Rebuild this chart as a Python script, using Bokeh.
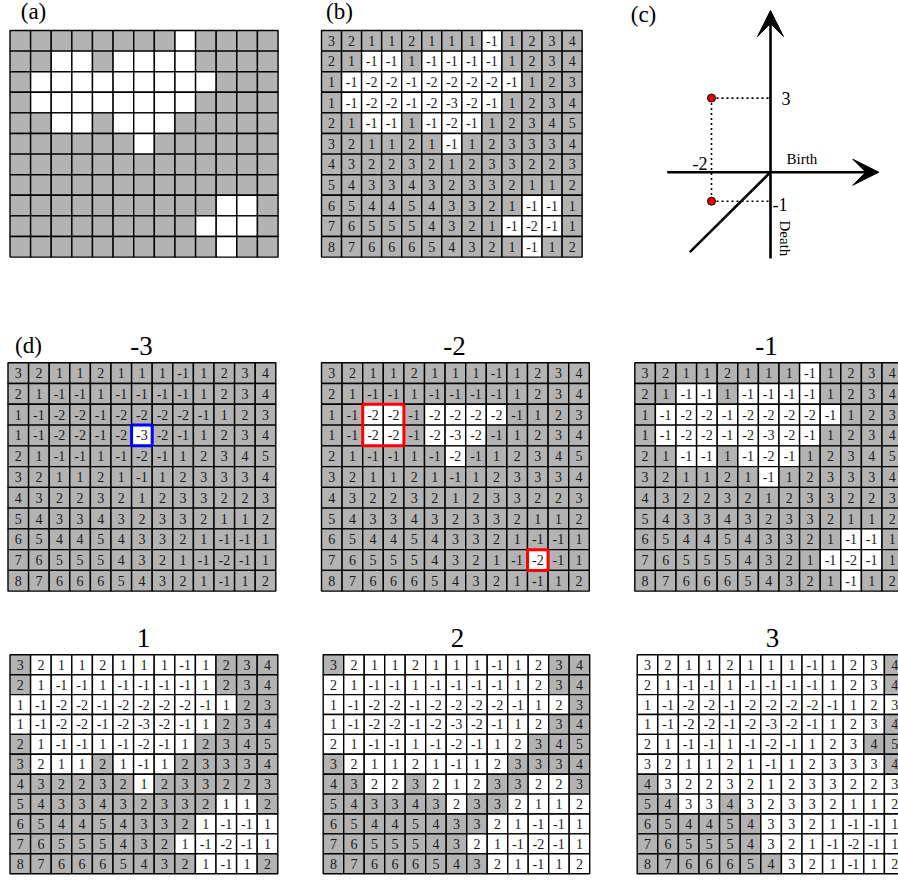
import math
from bokeh.plotting import figure
from bokeh.models import ColumnDataSource, Range1d, Arrow, VeeHead
from bokeh.core.properties import value
from bokeh.embed import file_html
from bokeh.resources import INLINE

# ---------------- data ----------------
grid_values = [
    [3, 2, 1, 1, 2, 1, 1, 1, -1, 1, 2, 3, 4],
    [2, 1, -1, -1, 1, -1, -1, -1, -1, 1, 2, 3, 4],
    [1, -1, -2, -2, -1, -2, -2, -2, -2, -1, 1, 2, 3],
    [1, -1, -2, -2, -1, -2, -3, -2, -1, 1, 2, 3, 4],
    [2, 1, -1, -1, 1, -1, -2, -1, 1, 2, 3, 4, 5],
    [3, 2, 1, 1, 2, 1, -1, 1, 2, 3, 3, 3, 4],
    [4, 3, 2, 2, 3, 2, 1, 2, 3, 3, 2, 2, 3],
    [5, 4, 3, 3, 4, 3, 2, 3, 3, 2, 1, 1, 2],
    [6, 5, 4, 4, 5, 4, 3, 3, 2, 1, -1, -1, 1],
    [7, 6, 5, 5, 5, 4, 3, 2, 1, -1, -2, -1, 1],
    [8, 7, 6, 6, 6, 5, 4, 3, 2, 1, -1, 1, 2],
]

# 'G' = grey cell, '.' = white cell
mask_binary = [
    "GGGGGGGG.GGGG", "GG..G....GGGG", "G.........GGG", "G........GGGG",
    "GG..G...GGGGG", "GGGGGG.GGGGGG", "GGGGGGGGGGGGG", "GGGGGGGGGGGGG",
    "GGGGGGGGGG..G", "GGGGGGGGG...G", "GGGGGGGGGG.GG",
]
mask_m3 = [
    "GGGGGGGGGGGGG", "GGGGGGGGGGGGG", "GGGGGGGGGGGGG", "GGGGGG.GGGGGG",
    "GGGGGGGGGGGGG", "GGGGGGGGGGGGG", "GGGGGGGGGGGGG", "GGGGGGGGGGGGG",
    "GGGGGGGGGGGGG", "GGGGGGGGGGGGG", "GGGGGGGGGGGGG",
]
mask_m2 = [
    "GGGGGGGGGGGGG", "GGGGGGGGGGGGG", "GG..G....GGGG", "GG..G...GGGGG",
    "GGGGGG.GGGGGG", "GGGGGGGGGGGGG", "GGGGGGGGGGGGG", "GGGGGGGGGGGGG",
    "GGGGGGGGGGGGG", "GGGGGGGGGG.GG", "GGGGGGGGGGGGG",
]
mask_m1 = mask_binary
mask_p1 = [
    "G.........GGG", "G.........GGG", "...........GG", "..........GGG",
    "G........GGGG", "G...G...GGGGG", "GGGGGG.GGGGGG", "GGGGGGGGGG..G",
    "GGGGGGGGG....", "GGGGGGGG.....", "GGGGGGGGG...G",
]
mask_p2 = [
    "G..........GG", "...........GG", "............G", "...........GG",
    "..........GGG", "G........GGGG", "GG..G...GG..G", "GGGGGG.GG....",
    "GGGGGGGG.....", "GGGGGGG......", "GGGGGGGG.....",
]
mask_p3 = [
    "............G", "............G", ".............", "............G",
    "...........GG", "............G", "G............", "GG..G........",
    "GGGGGG.......", "GGGGGG.......", "GGGGGGG......",
]

level_titles = ["-3", "-2", "-1", "1", "2", "3"]
panel_letters = ["(a)", "(b)", "(c)", "(d)"]

# highlighted regions: (panel, row0, col0, nrows, ncols, colour)
highlights = [
    ("-3", 3, 6, 1, 1, "#0000ff"),
    ("-2", 2, 2, 2, 2, "#ff0000"),
    ("-2", 9, 10, 1, 1, "#ff0000"),
]

# persistence diagram points (birth, death)
diagram_births = [-2, -2]
diagram_deaths = [3, -1]

# ---------------- layout ----------------
W, H = 898, 884
p = figure(width=W, height=H, output_backend="svg", toolbar_location=None,
           x_range=Range1d(0, W), y_range=Range1d(H, 0),
           min_border=0, border_fill_color="white", background_fill_color="white")
p.axis.visible = False
p.grid.visible = False
p.outline_line_color = None

FONT = value("Liberation Serif")
GREY = "#b3b3b3"

# panel geometry: left, top, cell width, cell height
panels = {
    "a": (9.5, 30.0, 20.62, 20.6),
    "b": (321.0, 30.0, 20.05, 20.6),
    "-3": (7.5, 362.3, 20.6, 20.76),
    "-2": (321.0, 362.3, 20.6, 20.76),
    "-1": (634.3, 362.3, 20.6, 20.76),
    "1": (9.5, 654.3, 20.6, 19.9),
    "2": (322.7, 654.3, 20.5, 19.9),
    "3": (636.7, 654.3, 20.6, 19.9),
}
panel_masks = {"a": mask_binary, "b": mask_binary, "-3": mask_m3, "-2": mask_m2,
               "-1": mask_m1, "1": mask_p1, "2": mask_p2, "3": mask_p3}


def draw_grid(key, with_numbers=True):
    x0, y0, cw, ch = panels[key]
    mask = panel_masks[key]
    xs, ys, cols, labels = [], [], [], []
    for r, row in enumerate(grid_values):
        for c, v in enumerate(row):
            xs.append(x0 + (c + 0.5) * cw)
            ys.append(y0 + (r + 0.5) * ch)
            cols.append(GREY if mask[r][c] == "G" else "white")
            labels.append(str(v))
    src = ColumnDataSource(dict(x=xs, y=ys, fill=cols, label=labels))
    p.rect(x="x", y="y", width=cw, height=ch, source=src, fill_color="fill",
           line_color="black", line_width=1.4)
    if with_numbers:
        p.text(x="x", y="y", text="label", source=src, text_font=FONT,
               text_font_size="14px", text_align="center", text_baseline="middle",
               text_color="#1a1a1a")


draw_grid("a", with_numbers=False)
for k in ["b", "-3", "-2", "-1", "1", "2", "3"]:
    draw_grid(k)

# highlight boxes
for key, r0, c0, nr, nc, colr in highlights:
    x0, y0, cw, ch = panels[key]
    p.rect(x=[x0 + (c0 + nc / 2) * cw], y=[y0 + (r0 + nr / 2) * ch],
           width=nc * cw, height=nr * ch, fill_color=None, line_color=colr,
           line_width=3)

# panel titles (filtration levels)
title_pos = {"-3": (141, 345), "-2": (454, 345), "-1": (766, 345),
             "1": (143, 637), "2": (457, 637), "3": (772, 637)}
p.text(x=[title_pos[t][0] for t in level_titles], y=[title_pos[t][1] for t in level_titles],
       text=level_titles, text_font=FONT, text_font_size="27px",
       text_align="center", text_baseline="middle", text_color="black")

# panel letters
p.text(x=[33, 339, 643, 28], y=[11, 11, 14, 345], text=panel_letters, text_font=FONT,
       text_font_size="23px", text_align="center", text_baseline="middle",
       text_color="black")

# ---------------- panel (c): persistence diagram ----------------
ox, oy = 770.0, 171.7
ux, uy_pos, uy_neg = 29.5, 24.7, 29.0


def to_px(b, d):
    return ox + b * ux, oy - (d * uy_pos if d >= 0 else d * uy_neg)


# axes with arrows
p.add_layout(Arrow(x_start=ox, y_start=258, x_end=ox, y_end=10, line_width=2.6,
                   line_color="black",
                   end=VeeHead(size=26, fill_color="black", line_color="black", line_width=1)))
p.add_layout(Arrow(x_start=666.7, y_start=oy, x_end=878.3, y_end=oy, line_width=2.6,
                   line_color="black",
                   end=VeeHead(size=26, fill_color="black", line_color="black", line_width=1)))
# diagonal
p.line(x=[ox, 689.3], y=[oy, 251.7], line_color="black", line_width=2.6)

pts = [to_px(b, d) for b, d in zip(diagram_births, diagram_deaths)]
# dotted guides
for (px, py) in pts:
    p.line(x=[px, ox], y=[py, py], line_color="black", line_width=1.6, line_dash="2 3")
p.line(x=[pts[0][0], pts[1][0]], y=[pts[0][1], pts[1][1]], line_color="black",
       line_width=1.6, line_dash="2 3")
p.scatter(x=[q[0] for q in pts], y=[q[1] for q in pts], size=8, fill_color="#ee0000",
          line_color="black", line_width=1)

# tick labels
p.text(x=[pts[0][0] + 70], y=[pts[0][1]], text=[str(diagram_deaths[0])], text_font=FONT,
       text_font_size="18px", text_align="left", text_baseline="middle")
p.text(x=[pts[1][0] + 61], y=[pts[1][1] + 3], text=[str(diagram_deaths[1])], text_font=FONT,
       text_font_size="18px", text_align="left", text_baseline="middle")
p.text(x=[pts[0][0] - 4], y=[oy - 9], text=[str(diagram_births[0])], text_font=FONT,
       text_font_size="18px", text_align="right", text_baseline="middle")
p.text(x=[786], y=[158], text=["Birth"], text_font=FONT, text_font_size="15px",
       text_align="left", text_baseline="middle")
p.text(x=[784], y=[220], text=["Death"], text_font=FONT, text_font_size="15px",
       text_align="left", text_baseline="middle", angle=-math.pi / 2)

open("out.html", "w").write(file_html(p, INLINE))
